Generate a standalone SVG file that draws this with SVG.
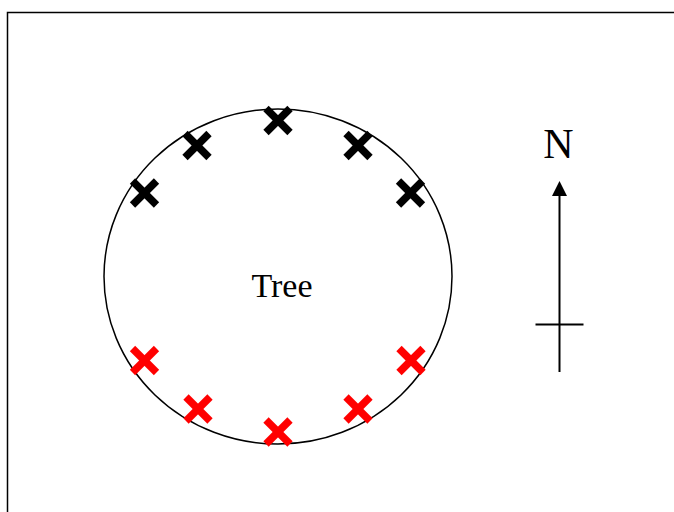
<svg xmlns="http://www.w3.org/2000/svg" width="674" height="512" viewBox="0 0 674 512">
<style>
.frame{fill:none;stroke:#000;stroke-width:1.5}
.blk{stroke:#000;stroke-width:7.5}
.red{stroke:#ff0000;stroke-width:7.5}
.t{font-family:"Liberation Serif","Times New Roman",serif;fill:#000;text-anchor:middle}
</style>
<defs>
<g id="xm"><line x1="-12" y1="-12" x2="12" y2="12"/><line x1="-12" y1="12" x2="12" y2="-12"/></g>
<marker id="ah" markerWidth="16" markerHeight="16" refX="0" refY="7.5" orient="auto" markerUnits="userSpaceOnUse"><path d="M0,0 L15,7.5 L0,15 Z" fill="#000"/></marker>
</defs>
<rect class="frame" x="7.5" y="12.5" width="680" height="520"/>
<g id="tree">
<ellipse cx="278" cy="276.5" rx="174" ry="167.5" fill="none" stroke="#000" stroke-width="1.5"/>
<text class="t" x="282" y="297" font-size="34">Tree</text>
</g>
<g id="marks-black" class="blk">
<use href="#xm" x="278" y="120.5"/>
<use href="#xm" x="197" y="145.5"/>
<use href="#xm" x="144.5" y="193"/>
<use href="#xm" x="358" y="145.5"/>
<use href="#xm" x="410.5" y="193"/>
</g>
<g id="marks-red" class="red">
<use href="#xm" x="144.5" y="360.5"/>
<use href="#xm" x="198" y="409"/>
<use href="#xm" x="278" y="432"/>
<use href="#xm" x="358" y="409"/>
<use href="#xm" x="411" y="360.5"/>
</g>
<g id="north">
<text class="t" x="558.5" y="157.5" font-size="42">N</text>
<line x1="559.5" y1="372" x2="559.5" y2="196" stroke="#000" stroke-width="2" marker-end="url(#ah)"/>
<line x1="535.5" y1="324.5" x2="583.5" y2="324.5" stroke="#000" stroke-width="2"/>
</g>
</svg>
